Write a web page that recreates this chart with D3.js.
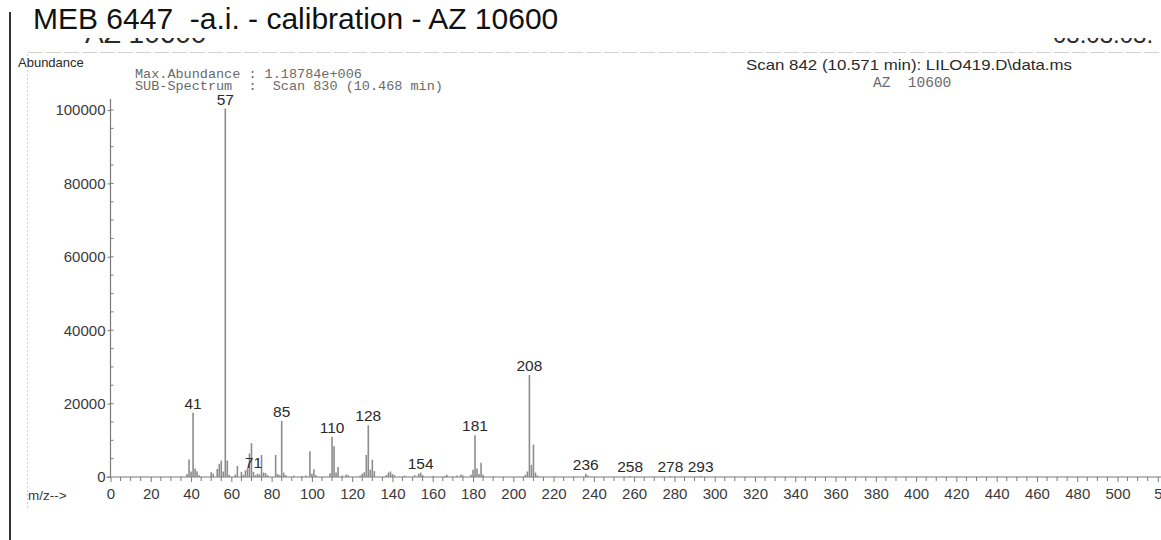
<!DOCTYPE html>
<html>
<head>
<meta charset="utf-8">
<script src="https://cdn.jsdelivr.net/npm/d3@7"></script>
<style>
  html, body { margin: 0; padding: 0; background: #fff; }
  svg { display: block; }
</style>
</head>
<body>
<svg id="chart" width="1161" height="540"></svg>
<script>
// Mass spectrum: m/z values and their abundances
const mzValues = [38, 39, 40, 41, 42, 43, 44, 50, 51, 53, 54, 55, 56, 57, 58, 59, 62, 63, 65, 66, 67, 68, 69, 70, 71, 72, 73, 74, 75, 76, 77, 78,
  82, 83, 84, 85, 86, 87, 91, 95, 97, 99, 100, 101, 102, 109, 110, 111, 112, 113, 115, 117, 118, 124, 125, 126, 127, 128, 129, 130, 131,
  137, 138, 139, 140, 141, 146, 151, 153, 154, 155, 160, 166, 167, 172, 174, 175, 179, 180, 181, 182, 183, 184, 185,
  206, 207, 208, 209, 210, 211, 212, 236, 237, 258, 278, 293];
const abundances = [800, 4800, 1500, 17500, 2300, 1600, 500, 1300, 900, 2200, 3600, 4500, 1500, 100400, 4500, 600, 700, 3000, 1400, 600, 1800, 2400, 6400, 9200, 1400, 500, 900, 700, 6000, 1200, 1100, 500,
  6000, 800, 500, 15300, 1200, 500, 400, 300, 400, 7000, 900, 2100, 500, 1000, 11000, 8400, 1200, 2700, 400, 700, 500, 400, 900, 1300, 6000, 14100, 2000, 4700, 1600,
  500, 1200, 1500, 800, 500, 400, 500, 900, 1200, 500, 300, 300, 600, 400, 700, 400, 600, 2000, 11400, 2300, 800, 3900, 600,
  600, 1500, 27800, 3300, 8800, 1200, 400, 900, 400, 300, 250, 300];
// Peaks annotated with their m/z
const labelledPeaks = [41, 57, 71, 85, 110, 128, 154, 181, 208, 236, 258, 278, 293];
// Axis tick values
const yTickValues = [0, 20000, 40000, 60000, 80000, 100000];
const xTickValues = d3.range(0, 521, 20);

const titleText = "MEB 6447  -a.i. - calibration - AZ 10600";
const headerLeft = ["Max.Abundance : 1.18784e+006", "SUB-Spectrum  :  Scan 830 (10.468 min)"];
const headerRight = "Scan 842 (10.571 min): LILO419.D\\data.ms";
const sampleName = "AZ 10600";
const sampleLine = "AZ  10600";

const svg = d3.select("#chart");
const sans = "'Liberation Sans', Arial, sans-serif";
const mono = "'Liberation Mono', 'Courier New', monospace";
const axisGray = "#7a7a7a";
const peakGray = "#8c8c8c";
const textDark = "#2a2a2a";

// Plot frame
const x0 = 110.5, y0 = 477;
const x = d3.scaleLinear().domain([0, 500]).range([x0, 1117.5]);
const y = d3.scaleLinear().domain([0, 100000]).range([y0, 110]);

// Page frame decorations
svg.append("line").attr("x1", 10).attr("x2", 10).attr("y1", 12).attr("y2", 540)
  .attr("stroke", "#333").attr("stroke-width", 2);
svg.append("line").attr("x1", 28).attr("x2", 1161).attr("y1", 52.5).attr("y2", 52.5)
  .attr("stroke", "#d2d2d2").attr("stroke-width", 1).attr("stroke-dasharray", "15,3");
svg.append("line").attr("x1", 27.5).attr("x2", 27.5).attr("y1", 54).attr("y2", 508)
  .attr("stroke", "#d2d2d2").attr("stroke-width", 1).attr("stroke-dasharray", "2,2");

// Text lines mostly hidden under the title block; only their lower edge shows
const defs = svg.append("defs");
defs.append("clipPath").attr("id", "stripClip")
  .append("rect").attr("x", 0).attr("y", 38).attr("width", 1161).attr("height", 5);
const strip = svg.append("g").attr("clip-path", "url(#stripClip)");
strip.append("text").attr("x", 85).attr("y", 43).attr("font-family", sans).attr("font-size", 28)
  .attr("fill", textDark).text(sampleName);
strip.append("text").attr("x", 1053).attr("y", 43).attr("font-family", sans).attr("font-size", 24)
  .attr("fill", textDark).text("03.03.03.");

// Title
svg.append("text").attr("x", 33).attr("y", 29).attr("font-family", sans).attr("font-size", 30)
  .attr("fill", "#111").style("white-space", "pre").text(titleText);

// Header texts
svg.append("text").attr("x", 18).attr("y", 67).attr("font-family", sans).attr("font-size", 13)
  .attr("fill", textDark).text("Abundance");
svg.selectAll("text.hdr").data(headerLeft).join("text").attr("class", "hdr")
  .attr("x", 135).attr("y", (d, i) => 78 + i * 11.5)
  .attr("font-family", mono).attr("font-size", 13.5).attr("fill", "#6a6a6a")
  .style("white-space", "pre").text(d => d);
svg.append("text").attr("x", 746).attr("y", 70).attr("font-family", sans).attr("font-size", 15)
  .attr("textLength", 326).attr("lengthAdjust", "spacingAndGlyphs")
  .attr("fill", textDark).text(headerRight);
svg.append("text").attr("x", 873).attr("y", 87).attr("font-family", mono).attr("font-size", 14.5)
  .attr("fill", "#6a6a6a").style("white-space", "pre").text(sampleLine);

// Y axis
const yAxis = d3.axisLeft(y).tickValues(yTickValues).tickSize(3).tickPadding(2).tickFormat(d3.format("d"));
const gy = svg.append("g").attr("transform", `translate(${x0},0)`).call(yAxis);
gy.select(".domain").attr("d", `M0,${y(103000)}V${y0}`);
// minor ticks on the inner side
gy.selectAll("line.minor").data(d3.range(5000, 103000, 5000)).join("line").attr("class", "minor")
  .attr("x1", 0).attr("x2", 3).attr("y1", d => y(d)).attr("y2", d => y(d));

// X axis
const xAxis = d3.axisBottom(x).tickValues(xTickValues).tickSize(5).tickPadding(6).tickFormat(d => d === 520 ? "5" : d);
const gx = svg.append("g").attr("transform", `translate(0,${y0})`).call(xAxis);
gx.select(".domain").attr("d", `M${x0 - 4},0H1161`);
gx.selectAll("line.minor").data(d3.range(5, 525, 5).filter(v => v % 20 !== 0)).join("line").attr("class", "minor")
  .attr("x1", d => x(d)).attr("x2", d => x(d)).attr("y1", 0).attr("y2", 4);

[gx, gy].forEach(g => {
  g.selectAll(".domain").attr("stroke", axisGray).attr("stroke-width", 1.2);
  g.selectAll("line").attr("stroke", axisGray);
  g.selectAll("text").attr("font-family", sans).attr("font-size", 15).attr("fill", "#3a3a3a");
});
gx.selectAll(".tick text").filter(d => d === 520).attr("text-anchor", "start").attr("dx", -4);

svg.append("text").attr("x", 28).attr("y", 500).attr("font-family", sans).attr("font-size", 13.5)
  .attr("fill", "#3a3a3a").text("m/z-->");

// Spectrum sticks
const peaks = mzValues.map((m, i) => ({ mz: m, ab: abundances[i] }));
svg.append("g").selectAll("line").data(peaks).join("line")
  .attr("x1", d => x(d.mz)).attr("x2", d => x(d.mz))
  .attr("y1", y0).attr("y2", d => y(d.ab))
  .attr("stroke", peakGray).attr("stroke-width", 1.6);

// Peak labels
svg.append("g").selectAll("text").data(peaks.filter(p => labelledPeaks.includes(p.mz))).join("text")
  .attr("x", d => x(d.mz)).attr("y", d => y(d.ab) - 4)
  .attr("text-anchor", "middle").attr("font-family", sans).attr("font-size", 15.5)
  .attr("fill", "#2a2a2a").text(d => d.mz);
</script>
</body>
</html>
